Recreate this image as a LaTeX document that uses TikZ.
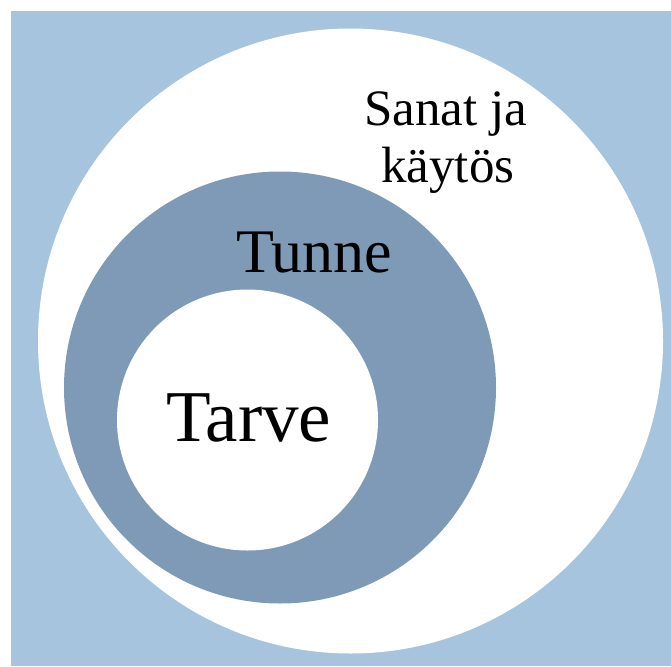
\documentclass[tikz,border=0pt]{standalone}
\usepackage{fontspec}
\setmainfont{Liberation Serif}
\definecolor{bgblue}{RGB}{167,196,222}
\definecolor{ringblue}{RGB}{127,154,183}
\begin{document}
\begin{tikzpicture}[x=1pt,y=-1pt,
  disc/.style={circle,inner sep=0pt,draw=none},
  lbl/.style={anchor=base west,inner sep=0pt,text=black}]
\useasboundingbox (0,0) rectangle (671,666);
% backdrop
\fill[bgblue] (11,11) rectangle (671,666);
% nested circles
\node[disc,fill=white,minimum size=625pt] (outer) at (350.5,341) {};
\node[disc,fill=ringblue,minimum size=432pt] (middle) at (280,387.5) {};
\node[disc,fill=white,minimum size=261pt] (inner) at (247.5,420) {};
% labels
\node[lbl,font=\fontsize{51}{60}\selectfont] (sanat) at (364,125) {Sanat ja};
\node[lbl,font=\fontsize{51}{60}\selectfont] (kaytos) at (381,182) {käytös};
\node[lbl,font=\fontsize{62}{72}\selectfont] (tunne) at (236,272) {Tunne};
\node[lbl,font=\fontsize{73}{84}\selectfont] (tarve) at (166,441) {Tarve};
\end{tikzpicture}
\end{document}
